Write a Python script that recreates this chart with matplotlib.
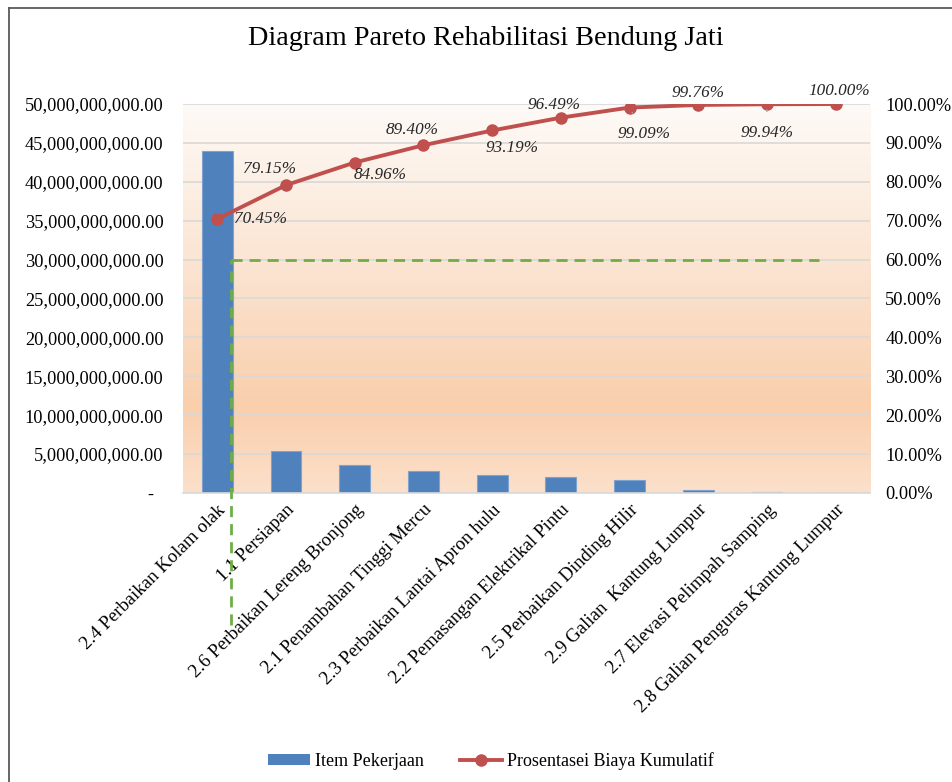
import numpy as np
import matplotlib
matplotlib.use("Agg")
import matplotlib.pyplot as plt
import matplotlib.transforms as mtransforms
from matplotlib.colors import LinearSegmentedColormap
from matplotlib.lines import Line2D
from matplotlib.patches import Patch

plt.rcParams["font.family"] = ["Liberation Serif", "DejaVu Serif"]

categories = [
    "2.4 Perbaikan Kolam olak",
    "1.1 Persiapan",
    "2.6 Perbaikan Lereng Bronjong",
    "2.1 Penambahan Tinggi Mercu",
    "2.3 Perbaikan Lantai Apron hulu",
    "2.2 Pemasangan Elektrikal Pintu",
    "2.5 Perbaikan Dinding Hilir",
    "2.9 Galian  Kantung Lumpur",
    "2.7 Elevasi Pelimpah Samping",
    "2.8 Galian Penguras Kantung Lumpur",
]
biaya = [44.0e9, 5.43e9, 3.63e9, 2.77e9, 2.37e9, 2.06e9, 1.62e9, 0.42e9, 0.11e9, 0.037e9]
kumulatif = [70.45, 79.15, 84.96, 89.40, 93.19, 96.49, 99.09, 99.76, 99.94, 100.00]
left_ticks = [0, 5e9, 10e9, 15e9, 20e9, 25e9, 30e9, 35e9, 40e9, 45e9, 50e9]
right_ticks = [0, 10, 20, 30, 40, 50, 60, 70, 80, 90, 100]
# label offsets in pixels (dx, dy) and whether a leader line is drawn
label_offsets = [(17, 0), (-17, 16), (25, -12), (-11, 15), (20, -18),
                 (-7, 13), (14, -26), (0, 12), (0, -29), (4, 13)]
label_leader = [False, False, False, False, False, False, True, False, True, False]
batas = 60

fig = plt.figure(figsize=(9.52, 7.82), dpi=100)
ax = fig.add_axes([0.1922, 0.3696, 0.7217, 0.4974])
x = np.arange(len(categories))

# gradient background
cmap = LinearSegmentedColormap.from_list(
    "bg", [(0.0, (252/255, 224/255, 203/255)), (0.22, (249/255, 207/255, 172/255)),
           (0.6, (251/255, 229/255, 211/255)), (1.0, (254/255, 250/255, 247/255))])
grad = np.linspace(0, 1, 256).reshape(-1, 1)
ax.imshow(grad, cmap=cmap, origin="lower", extent=[0, 1, 0, 1],
          transform=ax.transAxes, aspect="auto", zorder=0)

ax.bar(x, biaya, width=0.45, color="#4F81BD", edgecolor="#7FA3D0", linewidth=0.8, zorder=2)
ax.set_xlim(-0.5, len(categories) - 0.5)
ax.set_ylim(0, 50e9)
ax.set_yticks(left_ticks)
ax.set_yticklabels(["-  "] + [f"{v:,.2f}" for v in left_ticks[1:]], fontsize=13.2)
ax.set_xticks(x)
ax.set_xticklabels(categories, rotation=45, ha="right", va="top",
                   rotation_mode="anchor", fontsize=13.5)
shift = mtransforms.ScaledTranslation(6 / 100, 0, fig.dpi_scale_trans)
for lbl in ax.get_xticklabels():
    lbl.set_transform(lbl.get_transform() + shift)
ax.tick_params(axis="both", length=0)
ax.tick_params(axis="y", pad=14)
ax.tick_params(axis="x", pad=6)
ax.grid(axis="y", color="#D9D9D9", linewidth=1.2)
ax.set_axisbelow(True)
for s in ["top", "left", "right"]:
    ax.spines[s].set_visible(False)
ax.spines["bottom"].set_color("#D9D9D9")
ax.spines["bottom"].set_linewidth(1.2)

ax2 = ax.twinx()
ax2.set_ylim(0, 100)
ax2.set_yticks(right_ticks)
ax2.set_yticklabels([f"{v:.2f}%" for v in right_ticks], fontsize=13.2)
ax2.tick_params(axis="y", length=0, pad=11)
for s in ax2.spines.values():
    s.set_visible(False)

ax2.plot(x, kumulatif, color="#C0504D", linewidth=2.8, marker="o", markersize=8, zorder=5)

for i, (v, off, lead) in enumerate(zip(kumulatif, label_offsets, label_leader)):
    ha = "left" if i == 0 else "center"
    ax2.annotate(f"{v:.2f}%", (x[i], v), xytext=off, textcoords="offset pixels",
                 ha=ha, va="center", fontsize=12.3, style="italic", color="#262626",
                 zorder=6,
                 arrowprops=dict(arrowstyle="-", color="#A6A6A6", lw=1.0,
                                 shrinkA=8, shrinkB=4) if lead else None)

# garis batas 60%
ax2.plot([0.2, 8.75], [batas, batas], color="#70AD47", linewidth=2, dashes=(4, 2.5), zorder=4)
ax2.plot([0.2, 0.2], [-34, batas], color="#70AD47", linewidth=2, dashes=(4, 2.5),
         zorder=4, clip_on=False)

fig.text(0.51, 0.951, "Diagram Pareto Rehabilitasi Bendung Jati", ha="center", va="center",
         fontsize=20.3, color="#000000")

handles = [Patch(facecolor="#4F81BD", edgecolor="none"),
           Line2D([], [], color="#C0504D", linewidth=2.8, marker="o", markersize=8)]
fig.legend(handles, ["Item Pekerjaan", "Prosentasei Biaya Kumulatif"], loc="center",
           bbox_to_anchor=(0.516, 0.027), ncol=2, frameon=False, fontsize=13,
           handlelength=2.3, handleheight=0.5, columnspacing=2.0, handletextpad=0.3)

# chart frame (cut at right and bottom)
fig.add_artist(Line2D([0.0095, 1.0], [0.9898, 0.9898], color="#595959", linewidth=1.3))
fig.add_artist(Line2D([0.0095, 0.0095], [0.0, 0.9898], color="#595959", linewidth=1.3))

fig.savefig("out.png", dpi=100)
